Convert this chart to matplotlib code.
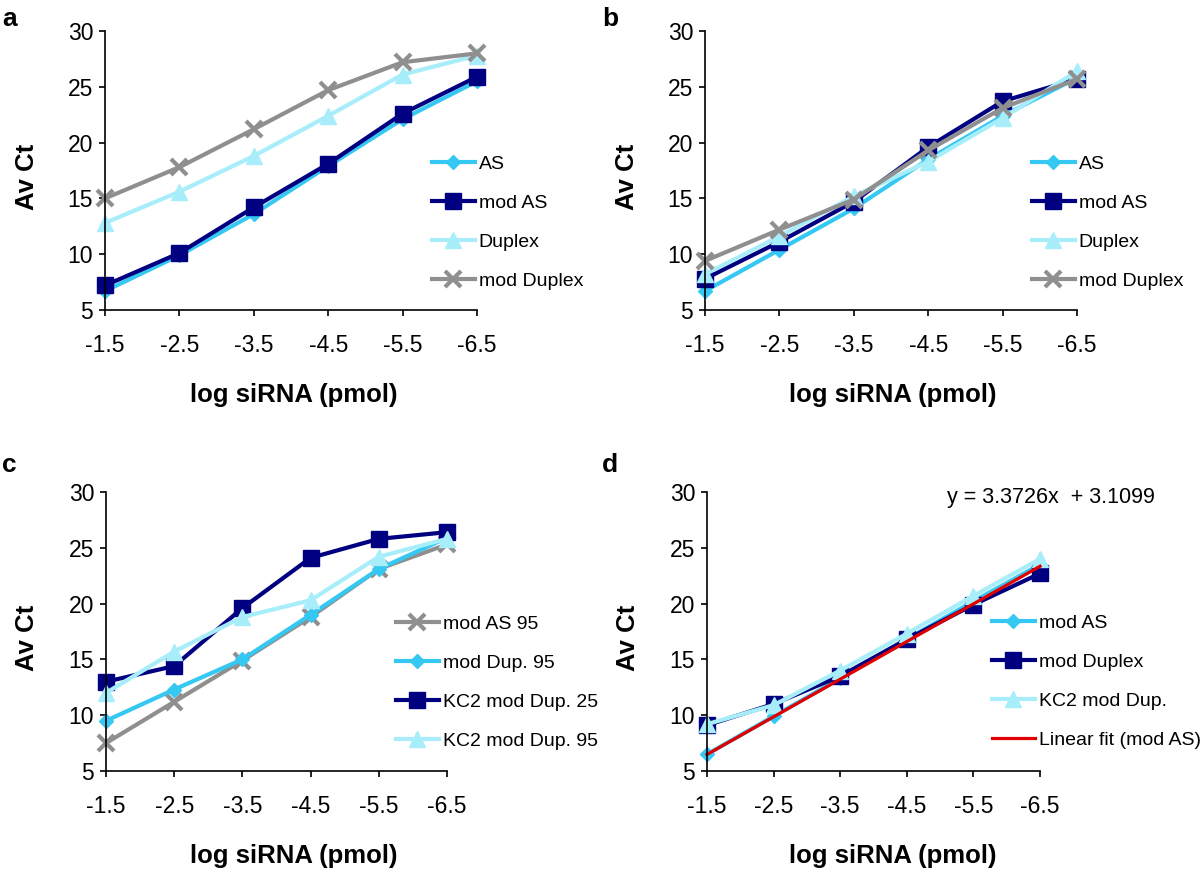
import numpy as np
import matplotlib
matplotlib.use('Agg')
import matplotlib.pyplot as plt

plt.rcParams['font.family'] = ['Liberation Sans', 'DejaVu Sans']

x_labels = ['-1.5', '-2.5', '-3.5', '-4.5', '-5.5', '-6.5']

# panel a
a_as = [6.7, 9.9, 13.6, 17.9, 22.1, 25.5]
a_mod_as = [7.2, 10.1, 14.2, 18.1, 22.6, 25.9]
a_duplex = [12.8, 15.6, 18.8, 22.4, 26.1, 27.8]
a_mod_duplex = [15.0, 17.8, 21.2, 24.7, 27.2, 28.0]

# panel b
b_as = [6.7, 10.4, 14.1, 18.5, 22.4, 25.8]
b_mod_as = [7.8, 11.1, 14.7, 19.6, 23.7, 25.7]
b_duplex = [8.2, 11.6, 15.2, 18.3, 22.2, 26.4]
b_mod_duplex = [9.4, 12.2, 14.9, 19.3, 23.1, 25.7]

# panel c
c_mod_as95 = [7.5, 11.2, 14.9, 18.8, 23.1, 25.3]
c_mod_dup95 = [9.5, 12.3, 15.0, 19.0, 23.1, 25.9]
c_kc2_dup25 = [13.0, 14.4, 19.6, 24.1, 25.8, 26.4]
c_kc2_dup95 = [12.0, 15.7, 18.8, 20.3, 24.2, 25.8]

# panel d
d_mod_as = [6.5, 9.9, 13.3, 16.8, 20.2, 23.5]
d_mod_duplex = [9.1, 11.0, 13.5, 16.8, 19.9, 22.7]
d_kc2_dup = [9.2, 10.9, 14.0, 17.3, 20.7, 24.0]
fit_slope = 3.3726
fit_intercept = 3.1099

C_AS = '#35c8f2'
C_NAVY = '#000080'
C_PALE = '#a8eefa'
C_GRAY = '#8f8f8f'
C_RED = '#e00000'

styles = {
    'diamond': dict(color=C_AS, marker='D', markersize=7),
    'square': dict(color=C_NAVY, marker='s', markersize=11),
    'triangle': dict(color=C_PALE, marker='^', markersize=11),
    'cross': dict(color=C_GRAY, marker='x', markersize=12, markeredgewidth=3),
}

fig = plt.figure(figsize=(12, 8.76), dpi=100)
W, H = 1200, 876


def make_axes(left, right, top, bottom):
    return fig.add_axes([left / W, 1 - bottom / H, (right - left) / W, (bottom - top) / H])


def style_axes(ax, xlab_x, ylab_x):
    ax.set_xlim(0, 5)
    ax.set_ylim(5, 30)
    ax.set_xticks(range(6))
    ax.set_xticklabels(x_labels)
    ax.set_yticks([5, 10, 15, 20, 25, 30])
    for s in ['top', 'right']:
        ax.spines[s].set_visible(False)
    for s in ['left', 'bottom']:
        ax.spines[s].set_linewidth(1.2)
    ax.tick_params(axis='both', labelsize=16.5, length=4, width=1.2, direction='out')
    ax.tick_params(axis='x', pad=13)
    ax.tick_params(axis='y', pad=4.5)
    ax.set_xlabel('log siRNA (pmol)', fontsize=18.5, fontweight='bold')
    ax.set_ylabel('Av Ct', fontsize=18.5, fontweight='bold')
    ax.xaxis.set_label_coords(xlab_x, -0.262)
    ax.yaxis.set_label_coords(ylab_x, 0.477)


def plot_series(ax, data, labels, kinds, lw=3):
    x = np.arange(len(x_labels))
    handles = []
    for y, lab, k in zip(data, labels, kinds):
        h, = ax.plot(x, y, linewidth=lw, label=lab, clip_on=False, **styles[k])
        handles.append(h)
    return handles


def add_legend(handles, x, y):
    fig.legend(handles=handles, loc='upper left', bbox_to_anchor=(x / W, 1 - y / H),
               frameon=False, fontsize=14, handlelength=2.2, handletextpad=0.2,
               labelspacing=1.09, borderpad=0, borderaxespad=0)


# a
ax_a = make_axes(105, 477, 31, 310)
h = plot_series(ax_a, [a_as, a_mod_as, a_duplex, a_mod_duplex],
                ['AS', 'mod AS', 'Duplex', 'mod Duplex'],
                ['diamond', 'square', 'triangle', 'cross'])
style_axes(ax_a, 0.508, -0.177)
add_legend(h, 432, 155.5)

# b
ax_b = make_axes(705, 1077, 31, 310)
h = plot_series(ax_b, [b_as, b_mod_as, b_duplex, b_mod_duplex],
                ['AS', 'mod AS', 'Duplex', 'mod Duplex'],
                ['diamond', 'square', 'triangle', 'cross'])
style_axes(ax_b, 0.505, -0.177)
add_legend(h, 1032, 155.5)

# c
ax_c = make_axes(106, 447, 492, 771)
h = plot_series(ax_c, [c_mod_as95, c_mod_dup95, c_kc2_dup25, c_kc2_dup95],
                ['mod AS 95', 'mod Dup. 95', 'KC2 mod Dup. 25', 'KC2 mod Dup. 95'],
                ['cross', 'diamond', 'square', 'triangle'])
style_axes(ax_c, 0.551, -0.196)
add_legend(h, 396, 615.5)

# d
ax_d = make_axes(707, 1040, 492, 771)
h = plot_series(ax_d, [d_mod_as, d_mod_duplex, d_kc2_dup],
                ['mod AS', 'mod Duplex', 'KC2 mod Dup.'],
                ['diamond', 'square', 'triangle'])
xi = np.arange(1, len(x_labels) + 1)
fit, = ax_d.plot(xi - 1, fit_slope * xi + fit_intercept, color=C_RED, linewidth=2.3,
                 label='Linear fit (mod AS)', clip_on=False)
h.append(fit)
style_axes(ax_d, 0.559, -0.2)
add_legend(h, 992, 614.5)
ax_d.text(0.72, 0.982, 'y = 3.3726x  + 3.1099', transform=ax_d.transAxes,
          fontsize=15.5, ha='left', va='center')

for lab, px, py in [('a', 2, 26), ('b', 602, 26), ('c', 2, 472), ('d', 602, 472)]:
    fig.text(px / W, 1 - py / H, lab, fontsize=19, fontweight='bold', va='baseline')

fig.savefig('out.png', dpi=100)
